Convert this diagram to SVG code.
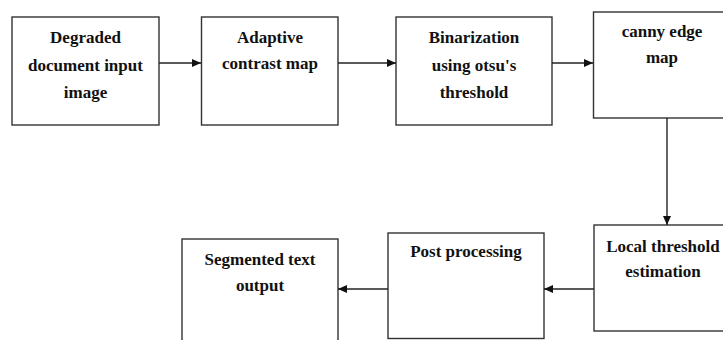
<svg xmlns="http://www.w3.org/2000/svg" width="723" height="340" viewBox="0 0 723 340">
<defs>
<marker id="ah" markerWidth="10" markerHeight="10" refX="9" refY="5" orient="auto" markerUnits="userSpaceOnUse">
<path d="M0,1 L9,5 L0,9 Z" fill="#111"/>
</marker>
<style>
.box{fill:#fff;stroke:#333;stroke-width:1.4}
.lbl{font-family:"Liberation Serif","Times New Roman",serif;font-weight:bold;font-size:17px;fill:#111;text-anchor:middle}
.con{fill:none;stroke:#222;stroke-width:1.4;marker-end:url(#ah)}
</style>
</defs>
<rect width="723" height="340" fill="#fff"/>
<g id="n1"><rect class="box" x="12" y="17" width="147" height="108"/>
<text class="lbl" x="85.5" y="43">Degraded</text><text class="lbl" x="85.5" y="71">document input</text><text class="lbl" x="85.5" y="98">image</text></g>
<g id="n2"><rect class="box" x="201.5" y="17" width="136.5" height="108"/>
<text class="lbl" x="270" y="43">Adaptive</text><text class="lbl" x="270" y="69">contrast map</text></g>
<g id="n3"><rect class="box" x="396" y="17" width="156" height="108"/>
<text class="lbl" x="474" y="43">Binarization</text><text class="lbl" x="474" y="71">using otsu's</text><text class="lbl" x="474" y="98">threshold</text></g>
<g id="n4"><rect class="box" x="593.5" y="12" width="140" height="106"/>
<text class="lbl" x="662" y="37">canny edge</text><text class="lbl" x="662" y="63">map</text></g>
<g id="n5"><rect class="box" x="594" y="225" width="140" height="106"/>
<text class="lbl" x="663" y="252">Local threshold</text><text class="lbl" x="663" y="277">estimation</text></g>
<g id="n6"><rect class="box" x="388" y="233" width="156" height="105.5"/>
<text class="lbl" x="466" y="257">Post processing</text></g>
<g id="n7"><rect class="box" x="182" y="239" width="156" height="110"/>
<text class="lbl" x="260" y="265">Segmented text</text><text class="lbl" x="260" y="291">output</text></g>
<g id="connectors">
<line class="con" x1="159" y1="63" x2="201" y2="63"/>
<line class="con" x1="338" y1="63" x2="396" y2="63"/>
<line class="con" x1="552" y1="63" x2="593" y2="63"/>
<line class="con" x1="667" y1="118" x2="667" y2="225"/>
<line class="con" x1="594" y1="289" x2="544" y2="289"/>
<line class="con" x1="388" y1="289" x2="338" y2="289"/>
</g>
</svg>
